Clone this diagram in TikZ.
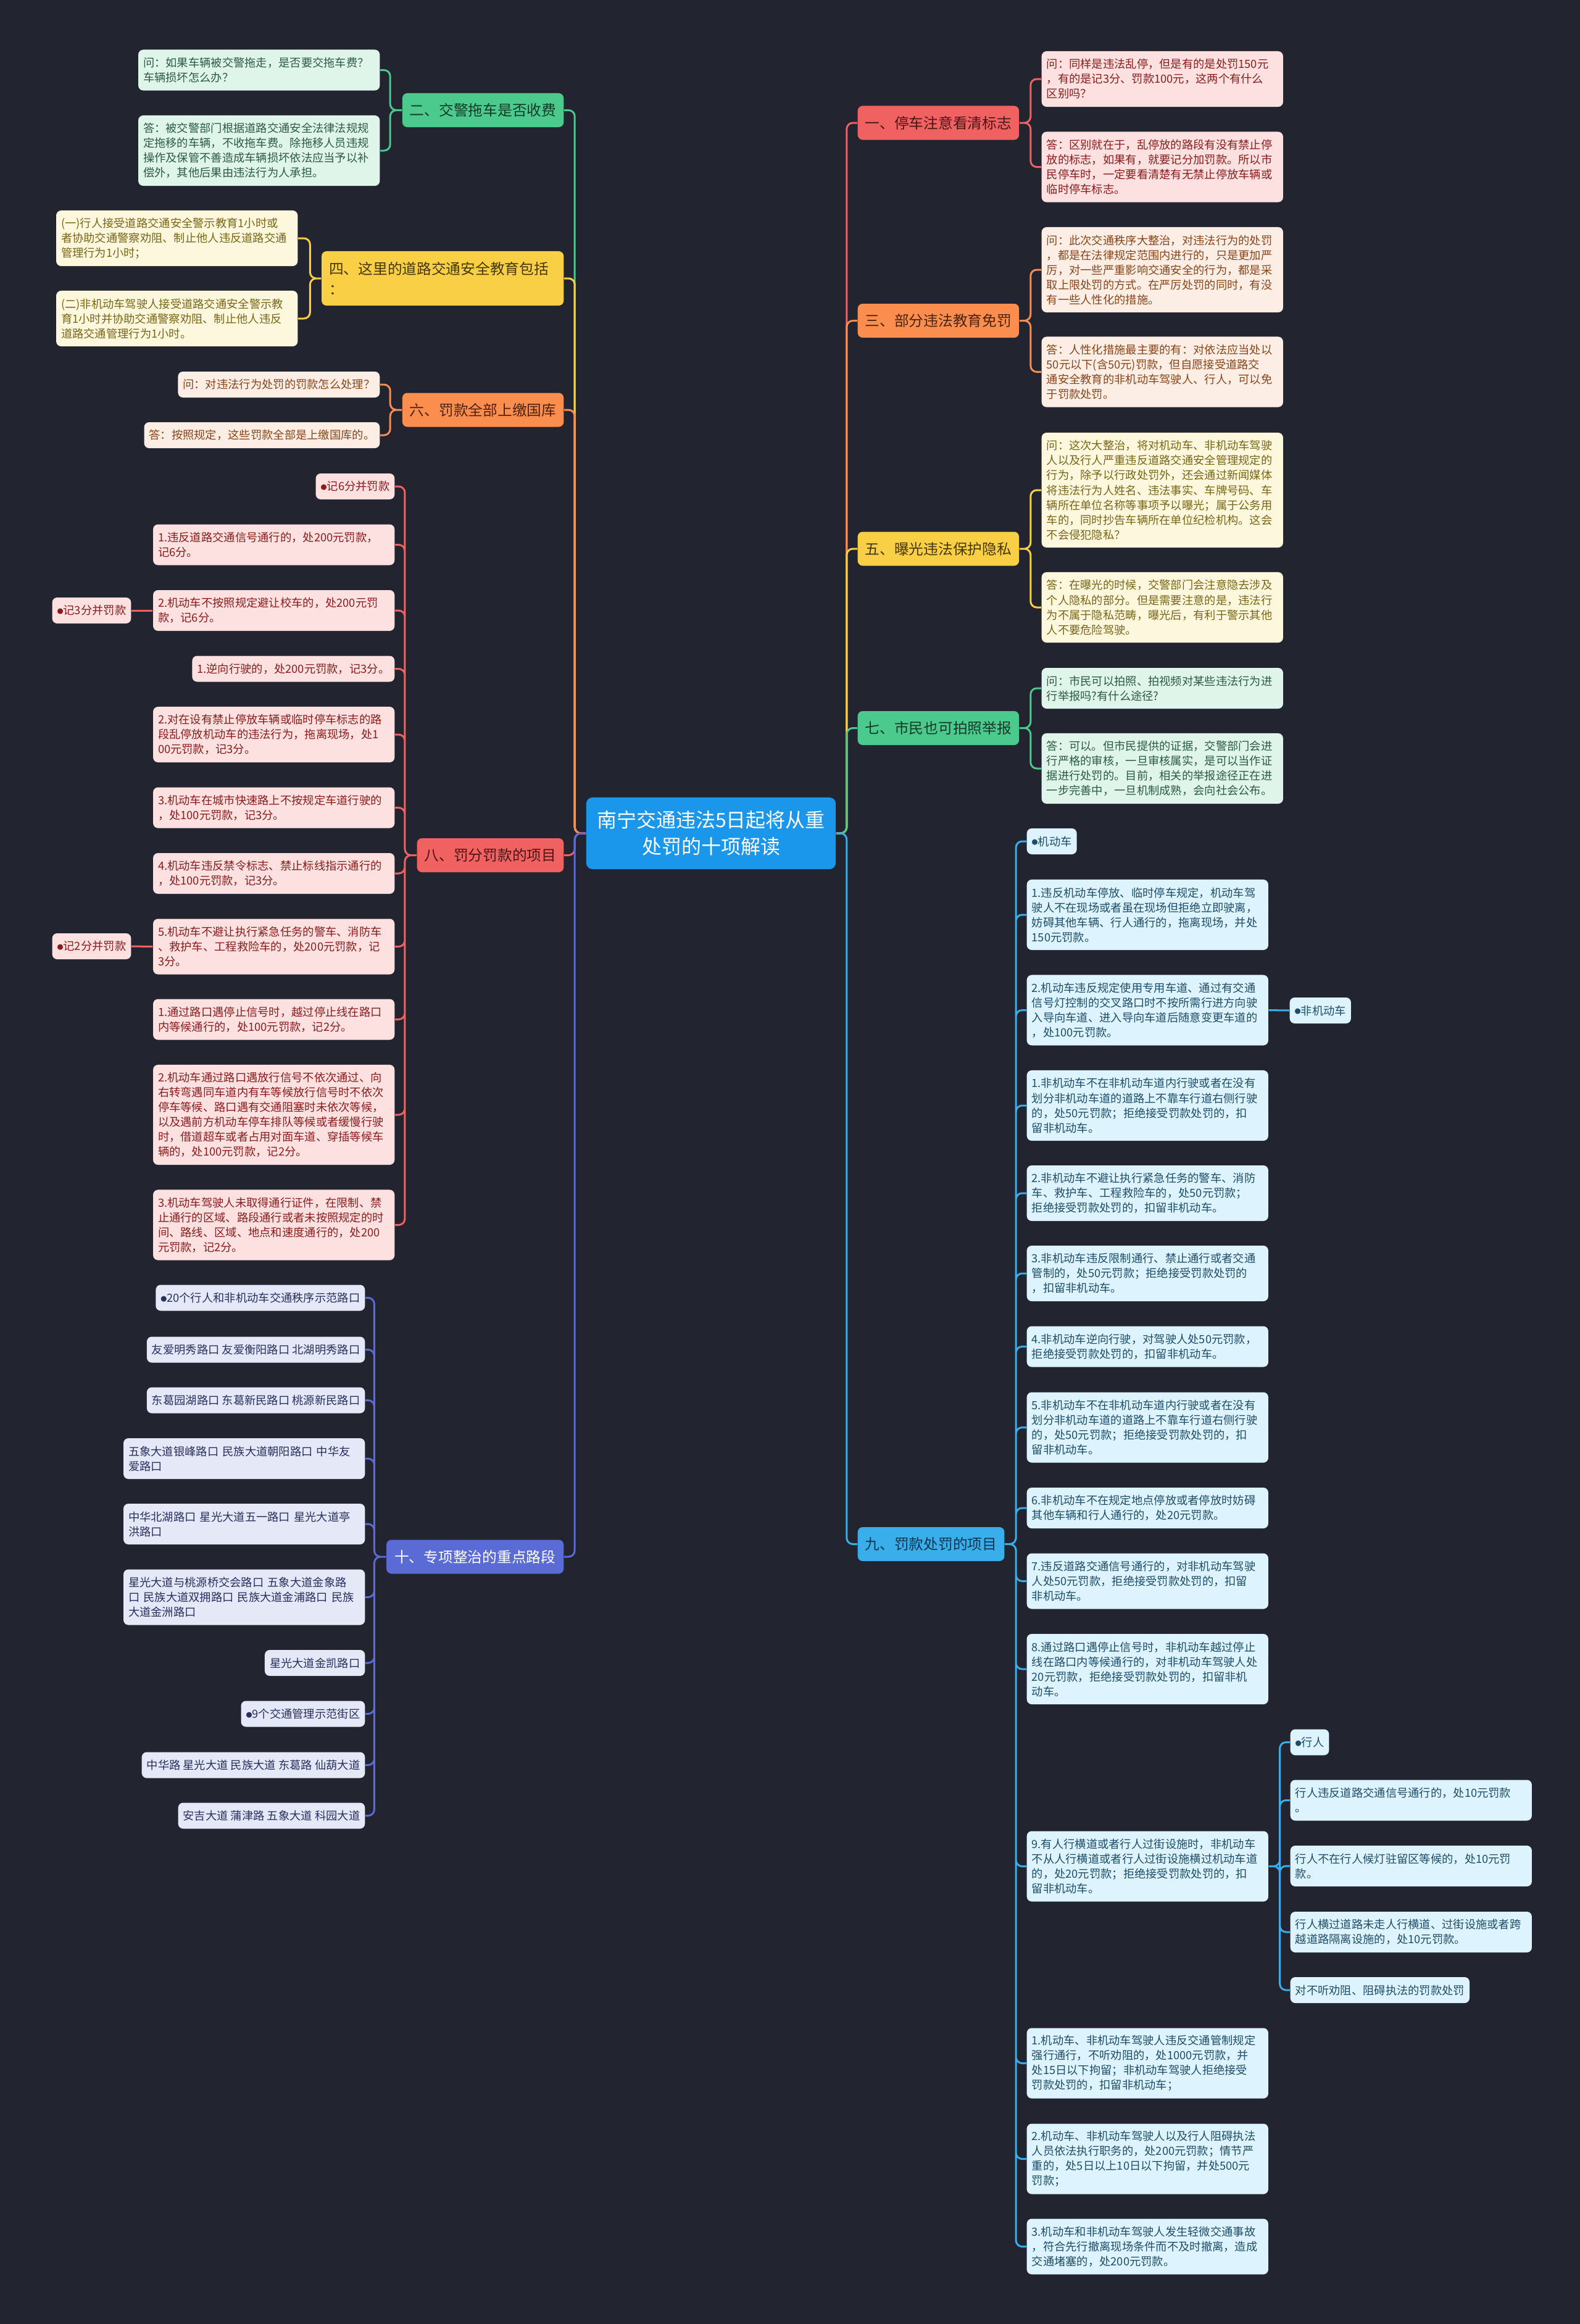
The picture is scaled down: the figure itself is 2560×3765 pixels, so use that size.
\documentclass[tikz,border=0pt]{standalone}
\usepackage{fontspec}
\setmainfont{Noto Sans CJK SC}
\usepackage{xcolor}
\usepackage{tikz}
\usetikzlibrary{positioning}
\definecolor{bgc}{HTML}{22252F}
\definecolor{rootbg}{HTML}{1A97EA}
\definecolor{redbr}{HTML}{F06262}
\definecolor{redbt}{HTML}{4A1616}
\definecolor{redbg}{HTML}{FDE1E1}
\definecolor{redtx}{HTML}{8C1C1C}
\definecolor{orgbr}{HTML}{FB8D4F}
\definecolor{orgbt}{HTML}{4A2410}
\definecolor{orgbg}{HTML}{FDEEE5}
\definecolor{orgtx}{HTML}{8A4419}
\definecolor{yelbr}{HTML}{F9CF46}
\definecolor{yelbt}{HTML}{453808}
\definecolor{yelbg}{HTML}{FDF7DD}
\definecolor{yeltx}{HTML}{7A6617}
\definecolor{grnbr}{HTML}{4CC98C}
\definecolor{grnbt}{HTML}{123A28}
\definecolor{grnbg}{HTML}{DFF5EA}
\definecolor{grntx}{HTML}{2C5A47}
\definecolor{blubr}{HTML}{3AAEEA}
\definecolor{blubt}{HTML}{0F3550}
\definecolor{blubg}{HTML}{DDF3FD}
\definecolor{blutx}{HTML}{1E4D6B}
\definecolor{purbr}{HTML}{5A6BD6}
\definecolor{purbg}{HTML}{E5E8F7}
\definecolor{purtx}{HTML}{283060}
\newcommand\mmdot{\raisebox{0.08em}{\scalebox{0.55}{●}}}

\begin{document}
\begin{tikzpicture}[x=0.01cm,y=-0.01cm,
  lf/.style={rounded corners=0.08cm,inner xsep=0.08cm,inner ysep=0pt,minimum height=0.42cm,
             font=\fontsize{5.2pt}{6.83pt}\selectfont,align=left},
  lw/.style={text width=3.75cm},
  ln/.style={minimum height=0.18cm+#1*0.24cm},
  br/.style={rounded corners=0.08cm,inner xsep=0.12cm,minimum height=0.55cm,
             font=\fontsize{6.75pt}{9.2pt}\selectfont,align=left},
  le/.style={anchor=east},
  ri/.style={anchor=west},
  lk/.style={line width=0.85pt,rounded corners=0.1cm},
  cred/.style={lf,fill=redbg,text=redtx},
  corg/.style={lf,fill=orgbg,text=orgtx},
  cyel/.style={lf,fill=yelbg,text=yeltx},
  cgrn/.style={lf,fill=grnbg,text=grntx},
  cblu/.style={lf,fill=blubg,text=blutx},
  cpur/.style={lf,fill=purbg,text=purtx},
  bred/.style={br,fill=redbr,text=redbt},
  borg/.style={br,fill=orgbr,text=orgbt},
  byel/.style={br,fill=yelbr,text=yelbt},
  bgrn/.style={br,fill=grnbr,text=grnbt},
  bblu/.style={br,fill=blubr,text=blubt},
  bpur/.style={br,fill=purbr,text=white},
  kred/.style={lk,draw=redbr},
  korg/.style={lk,draw=orgbr},
  kyel/.style={lk,draw=yelbr},
  kgrn/.style={lk,draw=grnbr},
  kblu/.style={lk,draw=blubr},
  kpur/.style={lk,draw=purbr}
]
\fill[bgc] (0,0) rectangle (2560,3765);
\useasboundingbox (0,0) rectangle (2560,3765);

% centre
\node[rounded corners=0.1cm,fill=rootbg,text=white,minimum width=4.04cm,minimum height=1.16cm,
      align=center,font=\fontsize{9.1pt}{12.2pt}\selectfont] (root) at (1152,1350)
  {南宁交通违法5日起将从重\\处罚的十项解读};

% left branches
\node[bgrn,le] (b2) at (914,178.5) {二、交警拖车是否收费};
\node[byel,le,minimum height=0.88cm,text width=3.68cm] (b4) at (914,451) {四、这里的道路交通安全教育包括\\：};
\node[borg,le] (b6) at (914,664) {六、罚款全部上缴国库};
\node[bred,le] (b8) at (914,1385.5) {八、罚分罚款的项目};
\node[bpur,le,minimum width=2.87cm] (b10) at (914,2522) {十、专项整治的重点路段};

% right branches
\node[bred,ri] (b1) at (1389,199) {一、停车注意看清标志};
\node[borg,ri] (b3) at (1389,519.5) {三、部分违法教育免罚};
\node[byel,ri] (b5) at (1389,889) {五、曝光违法保护隐私};
\node[bgrn,ri] (b7) at (1389,1179.5) {七、市民也可拍照举报};
\node[bblu,ri] (b9) at (1389,2501.5) {九、罚款处罚的项目};

% 二
\node[cgrn,lw,le,ln=2] (b2q) at (616,113.5) {问：如果车辆被交警拖走，是否要交拖车费？\\车辆损坏怎么办？};
\node[cgrn,lw,le,ln=4] (b2a) at (616,244) {答：被交警部门根据道路交通安全法律法规规\\定拖移的车辆，不收拖车费。除拖移人员违规\\操作及保管不善造成车辆损坏依法应当予以补\\偿外，其他后果由违法行为人承担。};
% 四
\node[cyel,lw,le,ln=3] (b4a) at (483,386) {(一)行人接受道路交通安全警示教育1小时或\\者协助交通警察劝阻、制止他人违反道路交通\\管理行为1小时；};
\node[cyel,lw,le,ln=3] (b4b) at (483,516) {(二)非机动车驾驶人接受道路交通安全警示教\\育1小时并协助交通警察劝阻、制止他人违反\\道路交通管理行为1小时。};
% 六
\node[corg,le] (b6q) at (616,623) {问：对违法行为处罚的罚款怎么处理？};
\node[corg,le] (b6a) at (616,705) {答：按照规定，这些罚款全部是上缴国库的。};
% 八
\node[cred,le] (b8a) at (640,788) {\mmdot 记6分并罚款};
\node[cred,lw,le,ln=2] (b8b) at (640,882.5) {1.违反道路交通信号通行的，处200元罚款，\\记6分。};
\node[cred,lw,le,ln=2] (b8c) at (640,989) {2.机动车不按照规定避让校车的，处200元罚\\款，记6分。};
\node[cred,le] (b8c1) at (213,989) {\mmdot 记3分并罚款};
\node[cred,le] (b8d) at (640,1083.5) {1.逆向行驶的，处200元罚款，记3分。};
\node[cred,lw,le,ln=3] (b8e) at (640,1190) {2.对在设有禁止停放车辆或临时停车标志的路\\段乱停放机动车的违法行为，拖离现场，处1\\00元罚款，记3分。};
\node[cred,lw,le,ln=2] (b8f) at (640,1308.5) {3.机动车在城市快速路上不按规定车道行驶的\\，处100元罚款，记3分。};
\node[cred,lw,le,ln=2] (b8g) at (640,1415) {4.机动车违反禁令标志、禁止标线指示通行的\\，处100元罚款，记3分。};
\node[cred,lw,le,ln=3] (b8h) at (640,1533.5) {5.机动车不避让执行紧急任务的警车、消防车\\、救护车、工程救险车的，处200元罚款，记\\3分。};
\node[cred,le] (b8h1) at (213,1533) {\mmdot 记2分并罚款};
\node[cred,lw,le,ln=2] (b8i) at (640,1651.5) {1.通过路口遇停止信号时，越过停止线在路口\\内等候通行的，处100元罚款，记2分。};
\node[cred,lw,le,ln=6] (b8j) at (640,1806) {2.机动车通过路口遇放行信号不依次通过、向\\右转弯遇同车道内有车等候放行信号时不依次\\停车等候、路口遇有交通阻塞时未依次等候，\\以及遇前方机动车停车排队等候或者缓慢行驶\\时，借道超车或者占用对面车道、穿插等候车\\辆的，处100元罚款，记2分。};
\node[cred,lw,le,ln=4] (b8k) at (640,1984.5) {3.机动车驾驶人未取得通行证件，在限制、禁\\止通行的区域、路段通行或者未按照规定的时\\间、路线、区域、地点和速度通行的，处200\\元罚款，记2分。};
% 十
\node[cpur,le] (b10a) at (592,2102.5) {\mmdot 20个行人和非机动车交通秩序示范路口};
\node[cpur,le] (b10b) at (592,2186.5) {友爱明秀路口 友爱衡阳路口 北湖明秀路口};
\node[cpur,le] (b10c) at (592,2268.5) {东葛园湖路口 东葛新民路口 桃源新民路口};
\node[cpur,lw,le,ln=2] (b10d) at (592,2363) {五象大道银峰路口 民族大道朝阳路口 中华友\\爱路口};
\node[cpur,lw,le,ln=2] (b10e) at (592,2469) {中华北湖路口 星光大道五一路口 星光大道亭\\洪路口};
\node[cpur,lw,le,ln=3] (b10f) at (592,2587.5) {星光大道与桃源桥交会路口 五象大道金象路\\口 民族大道双拥路口 民族大道金浦路口 民族\\大道金洲路口};
\node[cpur,le] (b10g) at (592,2694) {星光大道金凯路口};
\node[cpur,le] (b10h) at (592,2776.5) {\mmdot 9个交通管理示范街区};
\node[cpur,le] (b10i) at (592,2859.5) {中华路 星光大道 民族大道 东葛路 仙葫大道};
\node[cpur,le] (b10j) at (592,2941.5) {安吉大道 蒲津路 五象大道 科园大道};

% 一
\node[cred,lw,ri,ln=3] (b1q) at (1687,128) {问：同样是违法乱停，但是有的是处罚150元\\，有的是记3分、罚款100元，这两个有什么\\区别吗？};
\node[cred,lw,ri,ln=4] (b1a) at (1687,270.5) {答：区别就在于，乱停放的路段有没有禁止停\\放的标志，如果有，就要记分加罚款。所以市\\民停车时，一定要看清楚有无禁止停放车辆或\\临时停车标志。};
% 三
\node[corg,lw,ri,ln=5] (b3q) at (1687,437) {问：此次交通秩序大整治，对违法行为的处罚\\，都是在法律规定范围内进行的，只是更加严\\厉，对一些严重影响交通安全的行为，都是采\\取上限处罚的方式。在严厉处罚的同时，有没\\有一些人性化的措施。};
\node[corg,lw,ri,ln=4] (b3a) at (1687,602.5) {答：人性化措施最主要的有：对依法应当处以\\50元以下(含50元)罚款，但自愿接受道路交\\通安全教育的非机动车驾驶人、行人，可以免\\于罚款处罚。};
% 五
\node[cyel,lw,ri,ln=7] (b5q) at (1687,794) {问：这次大整治，将对机动车、非机动车驾驶\\人以及行人严重违反道路交通安全管理规定的\\行为，除予以行政处罚外，还会通过新闻媒体\\将违法行为人姓名、违法事实、车牌号码、车\\辆所在单位名称等事项予以曝光；属于公务用\\车的，同时抄告车辆所在单位纪检机构。这会\\不会侵犯隐私？};
\node[cyel,lw,ri,ln=4] (b5a) at (1687,984) {答：在曝光的时候，交警部门会注意隐去涉及\\个人隐私的部分。但是需要注意的是，违法行\\为不属于隐私范畴，曝光后，有利于警示其他\\人不要危险驾驶。};
% 七
\node[cgrn,lw,ri,ln=2] (b7q) at (1687,1115) {问：市民可以拍照、拍视频对某些违法行为进\\行举报吗?有什么途径?};
\node[cgrn,lw,ri,ln=4] (b7a) at (1687,1245) {答：可以。但市民提供的证据，交警部门会进\\行严格的审核，一旦审核属实，是可以当作证\\据进行处罚的。目前，相关的举报途径正在进\\一步完善中，一旦机制成熟，会向社会公布。};
% 九
\node[cblu,ri] (b9a) at (1663,1363) {\mmdot 机动车};
\node[cblu,lw,ri,ln=4] (b9b) at (1663,1482) {1.违反机动车停放、临时停车规定，机动车驾\\驶人不在现场或者虽在现场但拒绝立即驶离，\\妨碍其他车辆、行人通行的，拖离现场，并处\\150元罚款。};
\node[cblu,lw,ri,ln=4] (b9c) at (1663,1636.5) {2.机动车违反规定使用专用车道、通过有交通\\信号灯控制的交叉路口时不按所需行进方向驶\\入导向车道、进入导向车道后随意变更车道的\\，处100元罚款。};
\node[cblu,ri] (b9c1) at (2089,1637) {\mmdot 非机动车};
\node[cblu,lw,ri,ln=4] (b9d) at (1663,1791) {1.非机动车不在非机动车道内行驶或者在没有\\划分非机动车道的道路上不靠车行道右侧行驶\\的，处50元罚款；拒绝接受罚款处罚的，扣\\留非机动车。};
\node[cblu,lw,ri,ln=3] (b9e) at (1663,1933) {2.非机动车不避让执行紧急任务的警车、消防\\车、救护车、工程救险车的，处50元罚款；\\拒绝接受罚款处罚的，扣留非机动车。};
\node[cblu,lw,ri,ln=3] (b9f) at (1663,2063) {3.非机动车违反限制通行、禁止通行或者交通\\管制的，处50元罚款；拒绝接受罚款处罚的\\，扣留非机动车。};
\node[cblu,lw,ri,ln=2] (b9g) at (1663,2181.5) {4.非机动车逆向行驶，对驾驶人处50元罚款，\\拒绝接受罚款处罚的，扣留非机动车。};
\node[cblu,lw,ri,ln=4] (b9h) at (1663,2312.5) {5.非机动车不在非机动车道内行驶或者在没有\\划分非机动车道的道路上不靠车行道右侧行驶\\的，处50元罚款；拒绝接受罚款处罚的，扣\\留非机动车。};
\node[cblu,lw,ri,ln=2] (b9i) at (1663,2443) {6.非机动车不在规定地点停放或者停放时妨碍\\其他车辆和行人通行的，处20元罚款。};
\node[cblu,lw,ri,ln=3] (b9j) at (1663,2561.5) {7.违反道路交通信号通行的，对非机动车驾驶\\人处50元罚款，拒绝接受罚款处罚的，扣留\\非机动车。};
\node[cblu,lw,ri,ln=4] (b9k) at (1663,2704) {8.通过路口遇停止信号时，非机动车越过停止\\线在路口内等候通行的，对非机动车驾驶人处\\20元罚款，拒绝接受罚款处罚的，扣留非机\\动车。};
\node[cblu,lw,ri,ln=4] (b9l) at (1663,3023.5) {9.有人行横道或者行人过街设施时，非机动车\\不从人行横道或者行人过街设施横过机动车道\\的，处20元罚款；拒绝接受罚款处罚的，扣\\留非机动车。};
\node[cblu,ri] (b9l1) at (2090,2822.5) {\mmdot 行人};
\node[cblu,lw,ri,ln=2] (b9l2) at (2090,2916.5) {行人违反道路交通信号通行的，处10元罚款\\。};
\node[cblu,lw,ri,ln=2] (b9l3) at (2090,3023) {行人不在行人候灯驻留区等候的，处10元罚\\款。};
\node[cblu,lw,ri,ln=2] (b9l4) at (2090,3130) {行人横过道路未走人行横道、过街设施或者跨\\越道路隔离设施的，处10元罚款。};
\node[cblu,ri] (b9l5) at (2090,3224) {对不听劝阻、阻碍执法的罚款处罚};
\node[cblu,lw,ri,ln=4] (b9m) at (1663,3342.5) {1.机动车、非机动车驾驶人违反交通管制规定\\强行通行，不听劝阻的，处1000元罚款，并\\处15日以下拘留；非机动车驾驶人拒绝接受\\罚款处罚的，扣留非机动车；};
\node[cblu,lw,ri,ln=4] (b9n) at (1663,3497.5) {2.机动车、非机动车驾驶人以及行人阻碍执法\\人员依法执行职务的，处200元罚款；情节严\\重的，处5日以上10日以下拘留，并处500元\\罚款；};
\node[cblu,lw,ri,ln=3] (b9o) at (1663,3639.5) {3.机动车和非机动车驾驶人发生轻微交通事故\\，符合先行撤离现场条件而不及时撤离，造成\\交通堵塞的，处200元罚款。};

% centre to branches
\draw[kred] (root.east) -- ++(17,0) |- (b1.west);
\draw[korg] (root.east) -- ++(17,0) |- (b3.west);
\draw[kyel] (root.east) -- ++(17,0) |- (b5.west);
\draw[kgrn] (root.east) -- ++(17,0) |- (b7.west);
\draw[kblu] (root.east) -- ++(17,0) |- (b9.west);
\draw[kgrn] (root.west) -- ++(-18,0) |- (b2.east);
\draw[kyel] (root.west) -- ++(-18,0) |- (b4.east);
\draw[korg] (root.west) -- ++(-18,0) |- (b6.east);
\draw[kred] (root.west) -- ++(-18,0) |- (b8.east);
\draw[kpur] (root.west) -- ++(-18,0) |- (b10.east);

% branches to leaves
\draw[kgrn] (b2.west) -- ++(-19,0) |- (b2q.east) (b2.west) -- ++(-19,0) |- (b2a.east);
\draw[kyel] (b4.west) -- ++(-18,0) |- (b4a.east) (b4.west) -- ++(-18,0) |- (b4b.east);
\draw[korg] (b6.west) -- ++(-19,0) |- (b6q.east) (b6.west) -- ++(-19,0) |- (b6a.east);
\draw[kred] (b8.west) -- ++(-19,0) |- (b8a.east) (b8.west) -- ++(-19,0) |- (b8b.east)
  (b8.west) -- ++(-19,0) |- (b8c.east) (b8.west) -- ++(-19,0) |- (b8d.east)
  (b8.west) -- ++(-19,0) |- (b8e.east) (b8.west) -- ++(-19,0) |- (b8f.east)
  (b8.west) -- ++(-19,0) |- (b8g.east) (b8.west) -- ++(-19,0) |- (b8h.east)
  (b8.west) -- ++(-19,0) |- (b8i.east) (b8.west) -- ++(-19,0) |- (b8j.east)
  (b8.west) -- ++(-19,0) |- (b8k.east);
\draw[kred] (b8c.west) -- (b8c1.east);
\draw[kred] (b8h.west) -- (b8h1.east);
\draw[kpur] (b10.west) -- ++(-19,0) |- (b10a.east) (b10.west) -- ++(-19,0) |- (b10b.east)
  (b10.west) -- ++(-19,0) |- (b10c.east) (b10.west) -- ++(-19,0) |- (b10d.east)
  (b10.west) -- ++(-19,0) |- (b10e.east) (b10.west) -- ++(-19,0) |- (b10f.east)
  (b10.west) -- ++(-19,0) |- (b10g.east) (b10.west) -- ++(-19,0) |- (b10h.east)
  (b10.west) -- ++(-19,0) |- (b10i.east) (b10.west) -- ++(-19,0) |- (b10j.east);
\draw[kred] (b1.east) -- ++(18,0) |- (b1q.west) (b1.east) -- ++(18,0) |- (b1a.west);
\draw[korg] (b3.east) -- ++(18,0) |- (b3q.west) (b3.east) -- ++(18,0) |- (b3a.west);
\draw[kyel] (b5.east) -- ++(18,0) |- (b5q.west) (b5.east) -- ++(18,0) |- (b5a.west);
\draw[kgrn] (b7.east) -- ++(18,0) |- (b7q.west) (b7.east) -- ++(18,0) |- (b7a.west);
\draw[kblu] (b9.east) -- ++(18,0) |- (b9a.west) (b9.east) -- ++(18,0) |- (b9b.west)
  (b9.east) -- ++(18,0) |- (b9c.west) (b9.east) -- ++(18,0) |- (b9d.west)
  (b9.east) -- ++(18,0) |- (b9e.west) (b9.east) -- ++(18,0) |- (b9f.west)
  (b9.east) -- ++(18,0) |- (b9g.west) (b9.east) -- ++(18,0) |- (b9h.west)
  (b9.east) -- ++(18,0) |- (b9i.west) (b9.east) -- ++(18,0) |- (b9j.west)
  (b9.east) -- ++(18,0) |- (b9k.west) (b9.east) -- ++(18,0) |- (b9l.west)
  (b9.east) -- ++(18,0) |- (b9m.west) (b9.east) -- ++(18,0) |- (b9n.west)
  (b9.east) -- ++(18,0) |- (b9o.west);
\draw[kblu] (b9c.east) -- (b9c1.west);
\draw[kblu] (b9l.east) -- ++(18,0) |- (b9l1.west) (b9l.east) -- ++(18,0) |- (b9l2.west)
  (b9l.east) -- ++(18,0) |- (b9l3.west) (b9l.east) -- ++(18,0) |- (b9l4.west)
  (b9l.east) -- ++(18,0) |- (b9l5.west);
\end{tikzpicture}
\end{document}
